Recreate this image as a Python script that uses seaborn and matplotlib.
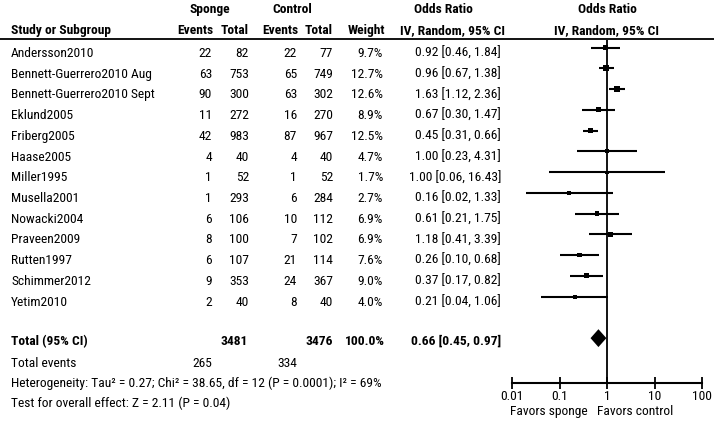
import matplotlib
matplotlib.use('Agg')
import matplotlib.pyplot as plt
import seaborn as sns
from matplotlib import font_manager


# Sponge vs control, per-study rows of the forest plot
STUDIES = [
    'Andersson2010', 'Bennett-Guerrero2010 Aug', 'Bennett-Guerrero2010 Sept',
    'Eklund2005', 'Friberg2005', 'Haase2005', 'Miller1995', 'Musella2001',
    'Nowacki2004', 'Praveen2009', 'Rutten1997', 'Schimmer2012', 'Yetim2010',
]
SPONGE_EVENTS = [22, 63, 90, 11, 42, 4, 1, 1, 6, 8, 6, 9, 2]
SPONGE_TOTAL = [82, 753, 300, 272, 983, 40, 52, 293, 106, 100, 107, 353, 40]
CONTROL_EVENTS = [22, 65, 63, 16, 87, 4, 1, 6, 10, 7, 21, 24, 8]
CONTROL_TOTAL = [77, 749, 302, 270, 967, 40, 52, 284, 112, 102, 114, 367, 40]
WEIGHT = [9.7, 12.7, 12.6, 8.9, 12.5, 4.7, 1.7, 2.7, 6.9, 6.9, 7.6, 9.0, 4.0]
ODDS_RATIO = [0.92, 0.96, 1.63, 0.67, 0.45, 1.00, 1.00, 0.16, 0.61, 1.18, 0.26, 0.37, 0.21]
CI_LOW = [0.46, 0.67, 1.12, 0.30, 0.31, 0.23, 0.06, 0.02, 0.21, 0.41, 0.10, 0.17, 0.04]
CI_HIGH = [1.84, 1.38, 2.36, 1.47, 0.66, 4.31, 16.43, 1.33, 1.75, 3.39, 0.68, 0.82, 1.06]

# pooled result
TOTAL_SPONGE = 3481
TOTAL_CONTROL = 3476
TOTAL_EVENTS_SPONGE = 265
TOTAL_EVENTS_CONTROL = 334
POOLED_OR = 0.66
POOLED_LOW = 0.45
POOLED_HIGH = 0.97
HETEROGENEITY = 'Heterogeneity: Tau² = 0.27; Chi² = 38.65, df = 12 (P = 0.0001); I² = 69%'
OVERALL_EFFECT = 'Test for overall effect: Z = 2.11 (P = 0.04)'

AXIS_TICKS = [0.01, 0.1, 1, 10, 100]
AXIS_LABELS = ['0.01', '0.1', '1', '10', '100']


def pick_font():
    names = {f.name for f in font_manager.fontManager.ttflist}
    for fam, size in [('Liberation Sans Narrow', 10), ('Arial Narrow', 10),
                      ('Roboto Condensed', 9.7)]:
        if fam in names:
            return fam, size
    return 'Liberation Sans', 8.3


def main():
    sns.set_theme(style='white')
    family, fs = pick_font()
    plt.rcParams['font.family'] = [family, 'DejaVu Sans']

    fig = plt.figure(figsize=(7.14, 4.22), dpi=100)

    # text layer in pixel coordinates
    tx = fig.add_axes([0, 0, 1, 1])
    tx.set_xlim(0, 714)
    tx.set_ylim(422, 0)
    tx.axis('off')

    def put(x, y, s, ha='right', bold=False):
        tx.text(x, y, s, ha=ha, va='baseline', fontsize=fs,
                fontweight='bold' if bold else 'normal', color='black')

    # headers
    put(210, 13, 'Sponge', ha='center', bold=True)
    put(292, 13, 'Control', ha='center', bold=True)
    put(443, 13, 'Odds Ratio', ha='center', bold=True)
    put(607, 13, 'Odds Ratio', ha='center', bold=True)
    put(11, 34, 'Study or Subgroup', ha='left', bold=True)
    put(213, 34, 'Events', bold=True)
    put(249, 34, 'Total', bold=True)
    put(298, 34, 'Events', bold=True)
    put(333, 34, 'Total', bold=True)
    put(385, 34, 'Weight', bold=True)
    put(452, 34, 'IV, Random, 95% CI', ha='center', bold=True)
    put(607, 34, 'IV, Random, 95% CI', ha='center', bold=True)
    tx.plot([0, 714], [38.5, 38.5], color='black', lw=1.3)

    for i, name in enumerate(STUDIES):
        y = 57 + 20.72 * i
        put(11, y, name, ha='left')
        put(212, y, str(SPONGE_EVENTS[i]))
        put(249, y, str(SPONGE_TOTAL[i]))
        put(297, y, str(CONTROL_EVENTS[i]))
        put(333, y, str(CONTROL_TOTAL[i]))
        put(383, y, f'{WEIGHT[i]:.1f}%')
        put(501, y, f'{ODDS_RATIO[i]:.2f} [{CI_LOW[i]:.2f}, {CI_HIGH[i]:.2f}]')

    put(11, 345, 'Total (95% CI)', ha='left', bold=True)
    put(248, 345, str(TOTAL_SPONGE), bold=True)
    put(333, 345, str(TOTAL_CONTROL), bold=True)
    put(385, 345, '100.0%', bold=True)
    put(501, 345, f'{POOLED_OR:.2f} [{POOLED_LOW:.2f}, {POOLED_HIGH:.2f}]', bold=True)
    put(11, 367, 'Total events', ha='left')
    put(212, 367, str(TOTAL_EVENTS_SPONGE))
    put(297, 367, str(TOTAL_EVENTS_CONTROL))
    put(11, 387, HETEROGENEITY, ha='left')
    put(11, 407, OVERALL_EFFECT, ha='left')
    put(588, 415, 'Favors sponge')
    put(597, 415, 'Favors control', ha='left')

    # forest plot panel
    top, bottom = 40, 383
    ax = fig.add_axes([512 / 714, (422 - bottom) / 422, 190 / 714, (bottom - top) / 422])
    ax.patch.set_alpha(0)
    rows = list(range(len(STUDIES)))
    ax.hlines(rows, CI_LOW, CI_HIGH, color='black', lw=1.5)
    sns.scatterplot(x=ODDS_RATIO, y=rows, size=WEIGHT, sizes=(5, 17),
                    marker='s', color='black', linewidth=0, legend=False, ax=ax)
    pooled_row = len(STUDIES) + 1
    h = 0.43
    ax.fill([POOLED_LOW, POOLED_OR, POOLED_HIGH, POOLED_OR],
            [pooled_row, pooled_row - h, pooled_row, pooled_row + h],
            color='black', lw=0)
    ax.axvline(1, color='black', lw=1.3)

    ax.set_xscale('log')
    ax.set_xlim(0.01, 100)
    ax.set_ylim((bottom - 47.5) / 20.76, (top - 47.5) / 20.76)
    ax.set_yticks([])
    ax.set_xticks(AXIS_TICKS)
    ax.set_xticklabels(AXIS_LABELS)
    ax.minorticks_off()
    for side in ['top', 'left', 'right']:
        ax.spines[side].set_visible(False)
    ax.spines['bottom'].set_color('black')
    ax.spines['bottom'].set_linewidth(1.5)
    ax.tick_params(axis='x', direction='inout', length=8, width=1.3,
                   color='black', pad=1, labelsize=fs, labelcolor='black',
                   bottom=True)
    ax.set_xlabel('')
    ax.set_ylabel('')

    fig.savefig('out.png', dpi=100, facecolor='white')


if __name__ == '__main__':
    main()
